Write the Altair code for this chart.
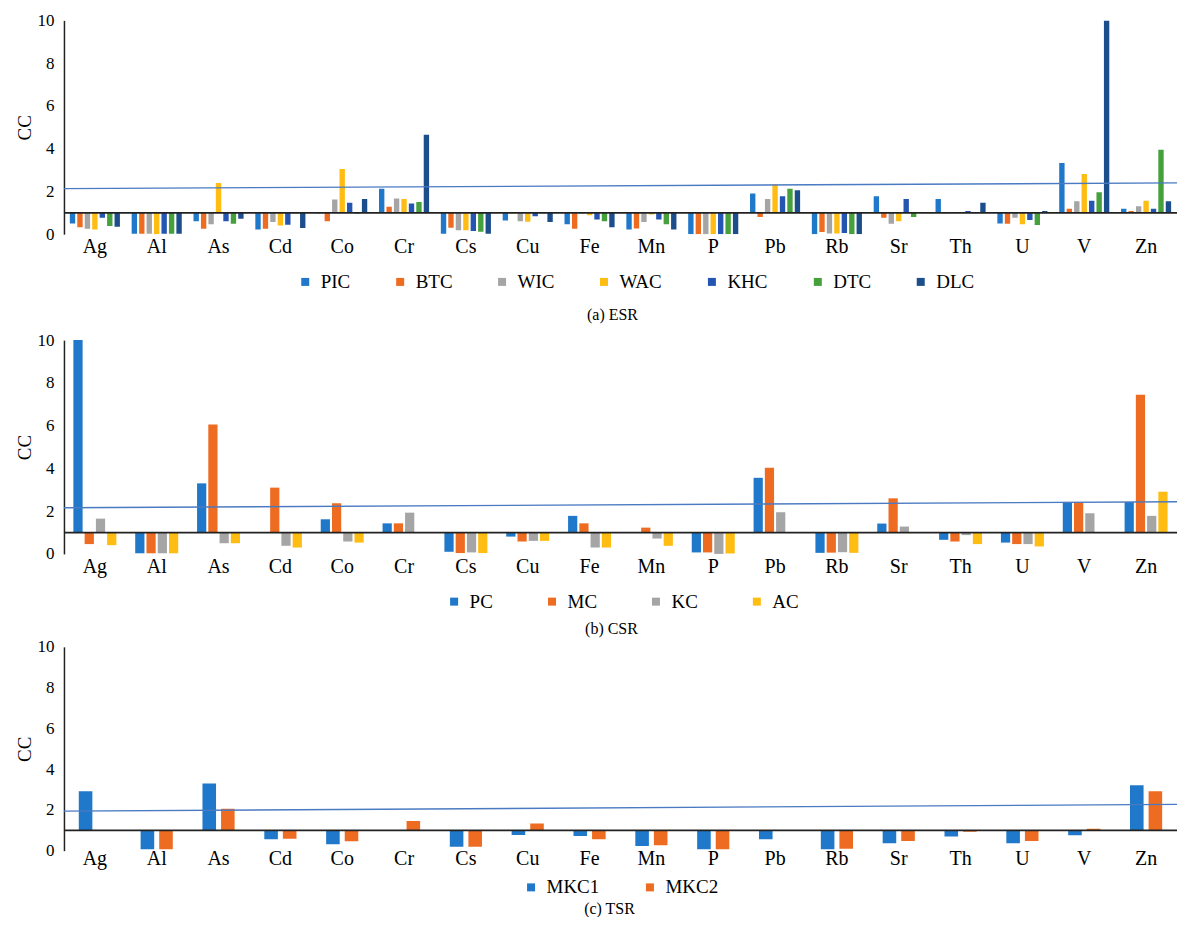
import altair as alt
import pandas as pd

FONT = "'Liberation Serif', 'Times New Roman', Times, serif"

elements = ["Ag", "Al", "As", "Cd", "Co", "Cr", "Cs", "Cu", "Fe", "Mn",
            "P", "Pb", "Rb", "Sr", "Th", "U", "V", "Zn"]

# (a) ESR
esr_series = ["PIC", "BTC", "WIC", "WAC", "KHC", "DTC", "DLC"]
PIC = [0.50, 0.02, 0.61, 0.22, 0.98, 2.12, 0.02, 0.64, 0.46, 0.22, 0.00, 1.90, 0.00, 1.78, 1.65, 0.50, 3.33, 1.19]
BTC = [0.33, 0.02, 0.25, 0.25, 0.61, 1.28, 0.30, 0.98, 0.25, 0.27, 0.00, 0.81, 0.10, 0.77, 0.98, 0.49, 1.19, 1.08]
WIC = [0.25, 0.02, 0.46, 0.57, 1.62, 1.67, 0.19, 0.61, 0.97, 0.57, 0.00, 1.65, 0.03, 0.49, 0.99, 0.77, 1.54, 1.31]
WAC = [0.22, 0.00, 2.40, 0.41, 3.05, 1.65, 0.19, 0.58, 0.89, 0.92, 0.00, 2.32, 0.03, 0.61, 1.00, 0.46, 2.82, 1.57]
KHC = [0.77, 0.02, 0.61, 0.44, 1.47, 1.43, 0.15, 0.84, 0.69, 0.69, 0.00, 1.78, 0.06, 1.65, 1.08, 0.66, 1.57, 1.19]
DTC = [0.38, 0.02, 0.49, 0.98, 0.97, 1.50, 0.11, 0.98, 0.61, 0.46, 0.00, 2.12, 0.00, 0.81, 0.98, 0.43, 1.96, 3.95]
DLC = [0.35, 0.02, 0.72, 0.29, 1.65, 4.65, 0.02, 0.57, 0.33, 0.22, 0.00, 2.06, 0.00, 1.03, 1.47, 1.08, 10.0, 1.54]
esr_colors = ["#1F78C9", "#EE6B22", "#A5A5A5", "#FFBC12", "#2455B2", "#46A03C", "#1D4E8C"]
esr_threshold = [2.13, 2.40]

# (b) CSR
csr_series = ["PC", "MC", "KC", "AC"]
PC = [10.0, 0.03, 3.30, 1.00, 1.62, 1.43, 0.10, 0.81, 1.78, 1.02, 0.07, 3.56, 0.05, 1.42, 0.66, 0.53, 2.43, 2.43]
MC = [0.46, 0.03, 6.05, 3.10, 2.37, 1.43, 0.04, 0.58, 1.43, 1.23, 0.07, 4.03, 0.06, 2.60, 0.58, 0.46, 2.43, 7.44]
KC = [1.65, 0.03, 0.50, 0.38, 0.58, 1.93, 0.07, 0.61, 0.30, 0.72, 0.00, 1.95, 0.08, 1.28, 0.88, 0.46, 1.90, 1.78]
AC = [0.41, 0.03, 0.50, 0.30, 0.53, 1.00, 0.04, 0.61, 0.30, 0.38, 0.02, 1.00, 0.05, 1.00, 0.46, 0.35, 1.00, 2.91]
csr_colors = ["#1F78C9", "#EE6B22", "#A5A5A5", "#FFBC12"]
csr_threshold = [2.16, 2.44]

# (c) TSR
tsr_series = ["MKC1", "MKC2"]
MKC1 = [2.92, 0.07, 3.30, 0.56, 0.32, 0.97, 0.19, 0.77, 0.72, 0.23, 0.07, 0.56, 0.07, 0.36, 0.69, 0.36, 0.76, 3.21]
MKC2 = [1.00, 0.07, 2.06, 0.59, 0.46, 1.46, 0.19, 1.33, 0.56, 0.27, 0.07, 1.00, 0.10, 0.48, 0.93, 0.48, 1.08, 2.92]
tsr_colors = ["#1F78C9", "#EE6B22"]
tsr_threshold = [1.94, 2.27]

y_ticks = [0, 2, 4, 6, 8, 10]
baseline_value = [1.0]

W = 1114


def make_panel(series, values, colors, height, band_pad, bar_pad, thr,
               leg_x, leg_y, col_pad, caption, cap_x, cap_y, label_pad,
               top_ext, bottom_ext):
    rows = []
    for s, vals in zip(series, values):
        for e, v in zip(elements, vals):
            rows.append({"element": e, "series": s, "value": v})
    df = pd.DataFrame(rows)

    y_scale = alt.Scale(domain=[0, 10], nice=False)
    y_axis = alt.Axis(values=y_ticks, title="CC", grid=False, ticks=False,
                      domainColor="#222222", domainWidth=1.5,
                      labelFont=FONT, titleFont=FONT,
                      labelFontSize=17, labelPadding=10, labelColor="black",
                      titleFontSize=19, titleFontWeight="normal",
                      titlePadding=2, titleColor="black")

    bars = alt.Chart(df).mark_bar(clip=True).encode(
        x=alt.X("element:N", sort=elements,
                scale=alt.Scale(paddingInner=band_pad, paddingOuter=band_pad / 2),
                axis=alt.Axis(title=None, labelAngle=0, domain=False, ticks=False,
                              labelFont=FONT, labelFontSize=20,
                              labelPadding=label_pad, labelColor="black")),
        xOffset=alt.XOffset("series:N",
                            scale=alt.Scale(domain=series, paddingInner=bar_pad,
                                            paddingOuter=0)),
        y=alt.Y("value:Q", scale=y_scale, axis=y_axis),
        y2=alt.datum(1),
        color=alt.Color("series:N",
                        scale=alt.Scale(domain=series, range=colors),
                        legend=alt.Legend(title=None, orient="none",
                                          legendX=leg_x, legendY=leg_y,
                                          direction="horizontal",
                                          columns=len(series),
                                          symbolType="square", symbolSize=64,
                                          symbolStrokeWidth=0,
                                          labelFont=FONT, labelFontSize=19,
                                          labelColor="black",
                                          columnPadding=col_pad, labelOffset=6,
                                          padding=0)),
    )

    thr_df = pd.DataFrame({"value": [thr[0]], "value2": [thr[1]]})
    thr_rule = alt.Chart(thr_df).mark_rule(color="#4A7AC2", strokeWidth=1.4).encode(
        x=alt.value(0), x2=alt.value(W),
        y=alt.Y("value:Q", scale=y_scale, axis=y_axis),
        y2="value2:Q",
    )

    base_df = pd.DataFrame({"value": baseline_value})
    base_rule = alt.Chart(base_df).mark_rule(color="#222222", strokeWidth=1.8).encode(
        x=alt.value(0), x2=alt.value(W),
        y=alt.Y("value:Q", scale=y_scale, axis=y_axis),
    )

    cap = alt.Chart(pd.DataFrame({"caption": [caption]})).mark_text(
        font=FONT, fontSize=16, color="black", baseline="middle", align="center"
    ).encode(text="caption:N", x=alt.value(cap_x), y=alt.value(cap_y))

    spacer = alt.Chart(pd.DataFrame({"k": [0]})).mark_rule(opacity=0).encode(
        x=alt.value(1), y=alt.value(top_ext), y2=alt.value(bottom_ext)
    )

    return alt.layer(bars, thr_rule, base_rule, cap, spacer).properties(
        width=W, height=height)


panel_a = make_panel(esr_series, [PIC, BTC, WIC, WAC, KHC, DTC, DLC], esr_colors,
                     214, 0.19, 0.28, esr_threshold,
                     232, 252, 40, "(a) ESR", 549, 295, 2, -12, 308)
panel_b = make_panel(csr_series, [PC, MC, KC, AC], csr_colors,
                     214, 0.305, 0.18, csr_threshold,
                     381, 252, 49, "(b) CSR", 548, 289, 3, -12, 298)
panel_c = make_panel(tsr_series, [MKC1, MKC2], tsr_colors,
                     204, 0.48, 0.27, tsr_threshold,
                     458, 231, 41, "(c) TSR", 546, 262, -2, -9, 0)

chart = alt.vconcat(panel_a, panel_b, panel_c, spacing=0).resolve_scale(
    x="independent", y="independent", color="independent", xOffset="independent"
).configure_view(stroke=None).configure_axis(
    labelFont=FONT, titleFont=FONT
).configure_legend(labelFont=FONT).configure_text(font=FONT).properties(
    padding={"left": 8, "right": 2, "top": 0, "bottom": 0})

chart.save("out.html", embed_options={"renderer": "svg", "actions": False})
